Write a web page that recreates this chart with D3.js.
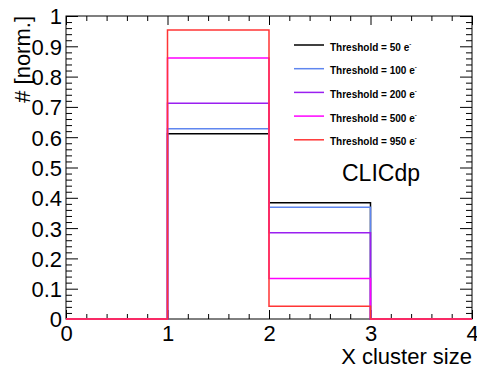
<!DOCTYPE html>
<html>
<head>
<meta charset="utf-8">
<script src="https://cdn.jsdelivr.net/npm/d3@7"></script>
<style>
  html, body { margin: 0; padding: 0; background: #fff; }
  svg { display: block; font-family: "Liberation Sans", Arial, Helvetica, sans-serif; }
</style>
</head>
<body>
<svg id="chart" width="477" height="369"></svg>
<script>
// Cluster size bins (edges 0..4) and normalised counts per threshold
const binEdges = [0, 1, 2, 3, 4];
const thresholds = ["50", "100", "200", "500", "950"];
const seriesColors = ["#000000", "#5f86ef", "#9a1ff0", "#ff00ff", "#ff3535"];
const valuesTh50  = [0, 0.611, 0.384, 0];
const valuesTh100 = [0, 0.628, 0.369, 0];
const valuesTh200 = [0, 0.712, 0.285, 0];
const valuesTh500 = [0, 0.861, 0.134, 0];
const valuesTh950 = [0, 0.954, 0.042, 0];
const seriesValues = [valuesTh50, valuesTh100, valuesTh200, valuesTh500, valuesTh950];
const xMajorTicks = [0, 1, 2, 3, 4];
const yMajorTicks = [0, 0.1, 0.2, 0.3, 0.4, 0.5, 0.6, 0.7, 0.8, 0.9, 1];
const yTickLabels = ["0", "0.1", "0.2", "0.3", "0.4", "0.5", "0.6", "0.7", "0.8", "0.9", "1"];

const svg = d3.select("#chart");
const frameL = 66, frameR = 472, frameT = 16, frameB = 319;

const x = d3.scaleLinear().domain([0, 4]).range([frameL, frameR]);
const y = d3.scaleLinear().domain([0, 1]).range([frameB, frameT]);

const xMinor = d3.range(0, 4.0001, 0.2).filter(v => Math.abs(v - Math.round(v)) > 1e-6);
const yMinor = d3.range(0, 1.0001, 0.02).filter(v => Math.abs(v * 10 - Math.round(v * 10)) > 1e-6);

function styleAxis(g) {
  g.select(".domain").remove();
  g.selectAll(".tick line").attr("stroke", "#000").attr("stroke-width", 1);
}

// Bottom axis: major ticks with labels, minor ticks without
svg.append("g").attr("transform", `translate(0,${frameB})`)
  .call(d3.axisTop(x).tickValues(xMajorTicks).tickSize(9).tickFormat(""))
  .call(styleAxis);
svg.append("g").attr("transform", `translate(0,${frameB})`)
  .call(d3.axisTop(x).tickValues(xMinor).tickSize(5).tickFormat(""))
  .call(styleAxis);
const xLab = svg.append("g").attr("transform", `translate(0,${frameB})`)
  .call(d3.axisBottom(x).tickValues(xMajorTicks).tickSize(0).tickPadding(0).tickFormat(d3.format("d")))
  .call(styleAxis);
xLab.selectAll("text").attr("font-size", 22).attr("font-family", "Liberation Sans, Arial, sans-serif")
  .attr("fill", "#000").attr("dy", null).attr("y", 22);

// Top axis mirror ticks
svg.append("g").attr("transform", `translate(0,${frameT})`)
  .call(d3.axisBottom(x).tickValues(xMajorTicks).tickSize(9).tickFormat(""))
  .call(styleAxis);
svg.append("g").attr("transform", `translate(0,${frameT})`)
  .call(d3.axisBottom(x).tickValues(xMinor).tickSize(5).tickFormat(""))
  .call(styleAxis);

// Left axis
svg.append("g").attr("transform", `translate(${frameL},0)`)
  .call(d3.axisRight(y).tickValues(yMajorTicks).tickSize(12).tickFormat(""))
  .call(styleAxis);
svg.append("g").attr("transform", `translate(${frameL},0)`)
  .call(d3.axisRight(y).tickValues(yMinor).tickSize(6).tickFormat(""))
  .call(styleAxis);
const yLab = svg.append("g").attr("transform", `translate(${frameL},0)`)
  .call(d3.axisLeft(y).tickValues(yMajorTicks).tickSize(0).tickPadding(4)
    .tickFormat((d, i) => yTickLabels[i]))
  .call(styleAxis);
yLab.selectAll("text").attr("font-size", 22).attr("font-family", "Liberation Sans, Arial, sans-serif")
  .attr("fill", "#000").attr("dy", "0.36em");

// Right axis mirror ticks
svg.append("g").attr("transform", `translate(${frameR},0)`)
  .call(d3.axisLeft(y).tickValues(yMajorTicks).tickSize(12).tickFormat(""))
  .call(styleAxis);
svg.append("g").attr("transform", `translate(${frameR},0)`)
  .call(d3.axisLeft(y).tickValues(yMinor).tickSize(6).tickFormat(""))
  .call(styleAxis);

// Frame
svg.append("rect").attr("x", frameL).attr("y", frameT)
  .attr("width", frameR - frameL).attr("height", frameB - frameT)
  .attr("fill", "none").attr("stroke", "#000").attr("stroke-width", 1);

// Histogram outlines (step lines)
function stepPoints(vals) {
  const pts = [];
  vals.forEach((v, i) => {
    pts.push([binEdges[i], v]);
    pts.push([binEdges[i + 1], v]);
  });
  return pts;
}
const line = d3.line().x(d => x(d[0])).y(d => y(d[1]));
seriesValues.forEach((vals, i) => {
  svg.append("path")
    .attr("d", line(stepPoints(vals)))
    .attr("fill", "none")
    .attr("stroke", seriesColors[i])
    .attr("stroke-width", 1.5);
});

// Legend
const legend = svg.append("g");
thresholds.forEach((t, i) => {
  const ly = 45 + i * 23.7;
  legend.append("line").attr("x1", 294).attr("x2", 324).attr("y1", ly).attr("y2", ly)
    .attr("stroke", seriesColors[i]).attr("stroke-width", 1.5);
  const txt = legend.append("text").attr("x", 330).attr("y", ly + 5.5)
    .attr("font-size", 10).attr("font-weight", "bold").attr("fill", "#000");
  txt.append("tspan").text(`Threshold = ${t} e`);
  txt.append("tspan").attr("font-size", 6).attr("dy", -5).text("-");
});

// CLICdp label
svg.append("text").attr("x", 342).attr("y", 181).attr("font-size", 23).attr("fill", "#000")
  .text("CLICdp");

// Axis titles
svg.append("text").attr("x", 472).attr("y", 364).attr("text-anchor", "end")
  .attr("font-size", 22).attr("fill", "#000").text("X cluster size");
svg.append("text").attr("transform", "translate(30,16) rotate(-90)")
  .attr("text-anchor", "end").attr("font-size", 22).attr("fill", "#000").text("# [norm.]");
</script>
</body>
</html>
